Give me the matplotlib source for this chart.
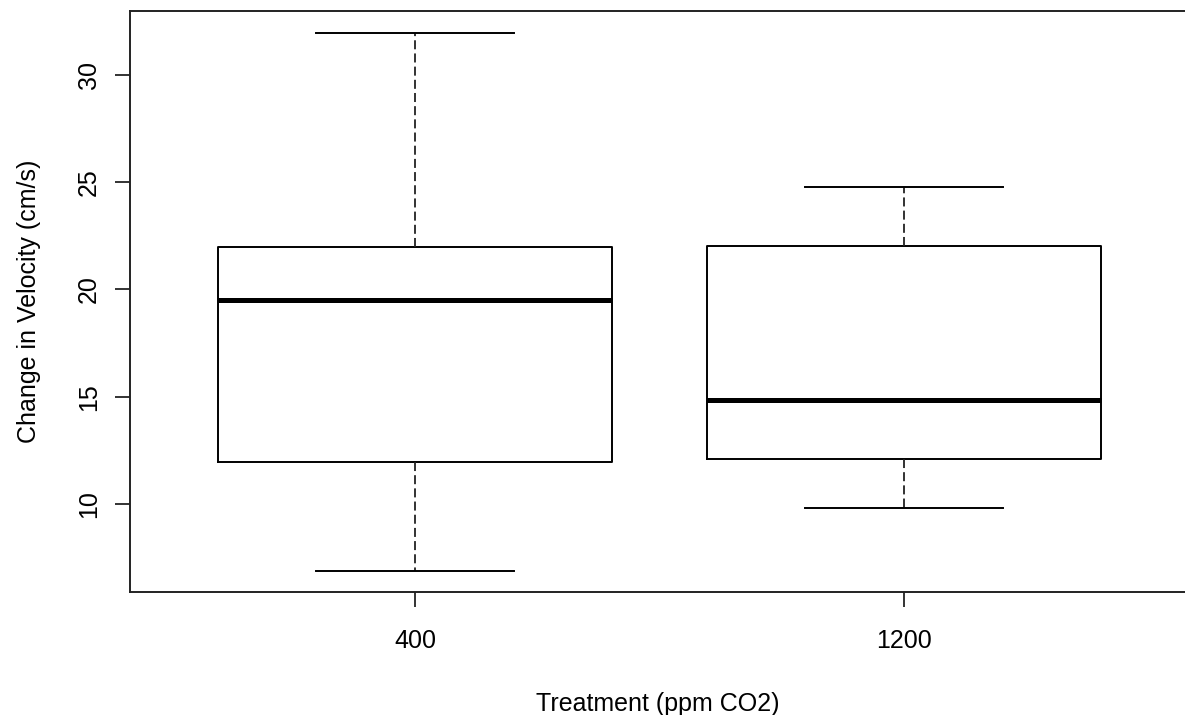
import matplotlib.pyplot as plt

plt.rcParams['font.family'] = ['Liberation Sans', 'DejaVu Sans']

# group labels and five-number summaries
groups = ['400', '1200']
whis_lo = [6.9, 9.8]
q1 = [11.95, 12.1]
med = [19.5, 14.85]
q3 = [22.0, 22.05]
whis_hi = [31.95, 24.8]

stats = []
for i in range(len(groups)):
    stats.append({'label': groups[i], 'whislo': whis_lo[i], 'q1': q1[i],
                  'med': med[i], 'q3': q3[i], 'whishi': whis_hi[i]})

W, H = 1185, 715
fig = plt.figure(figsize=(W / 100, H / 100), dpi=100)
ax = fig.add_axes([130 / W, (H - 592) / H, (W - 130) / W, (592 - 11) / H])

ax.bxp(stats, positions=[1, 2], widths=0.806, capwidths=0.405,
       showfliers=False, patch_artist=False,
       boxprops=dict(color='black', linewidth=1.4),
       whiskerprops=dict(color='#222222', linewidth=1.3, linestyle=(0, (5, 2.3))),
       capprops=dict(color='black', linewidth=1.4),
       medianprops=dict(color='black', linewidth=3.6, solid_capstyle='butt'))

ax.set_xlim(0.417, 2.575)
ax.set_ylim(5.9, 32.98)
ax.set_yticks([10, 15, 20, 25, 30])
ax.set_xticks([1, 2], groups)

for s in ['left', 'bottom', 'top']:
    ax.spines[s].set_linewidth(1.4)
    ax.spines[s].set_color('#222222')
ax.spines['right'].set_visible(False)

ax.tick_params(axis='both', length=11, width=1.4, color='#333333',
               labelsize=18)
ax.tick_params(axis='x', pad=16)
ax.tick_params(axis='y', pad=10)
for lab in ax.get_yticklabels():
    lab.set_rotation(90)
    lab.set_va('center')

ax.set_xlabel('Treatment (ppm CO2)', fontsize=18, labelpad=28)
ax.set_ylabel('Change in Velocity (cm/s)', fontsize=18, labelpad=26)

fig.savefig('out.png', dpi=100)
